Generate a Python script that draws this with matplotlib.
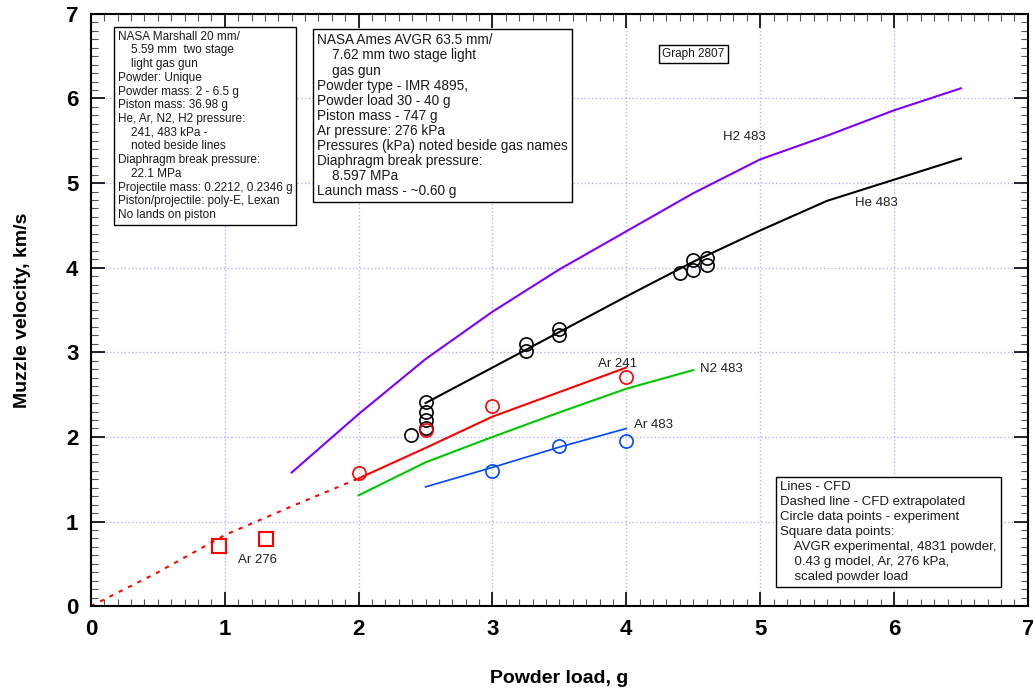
import numpy as np
import matplotlib
matplotlib.use('Agg')
import matplotlib.pyplot as plt
from matplotlib.ticker import MultipleLocator

plt.rcParams['font.family'] = ['Liberation Sans', 'DejaVu Sans']

# CFD lines
h2_x = [1.5, 2, 2.5, 3, 3.5, 4, 4.5, 5, 5.5, 6, 6.5]
h2_y = [1.58, 2.27, 2.92, 3.48, 3.98, 4.43, 4.88, 5.28, 5.56, 5.86, 6.12]
he_x = [2.5, 3, 3.5, 4, 4.5, 5, 5.5, 6, 6.5]
he_y = [2.40, 2.82, 3.24, 3.66, 4.07, 4.44, 4.79, 5.04, 5.29]
ar241_x = [2, 2.5, 3, 3.5, 4]
ar241_y = [1.51, 1.87, 2.24, 2.53, 2.82]
ar241_ext_x = [0, 0.5, 1, 1.5, 2]
ar241_ext_y = [0, 0.40, 0.84, 1.18, 1.51]
n2_x = [2, 2.5, 3, 3.5, 4, 4.5]
n2_y = [1.31, 1.70, 2.00, 2.29, 2.57, 2.79]
ar483_x = [2.5, 3, 3.5, 4]
ar483_y = [1.41, 1.64, 1.88, 2.10]

# experiment (circles)
he_exp_x = [2.39, 2.5, 2.5, 2.5, 2.5, 3.25, 3.25, 3.5, 3.5, 4.4, 4.5, 4.5, 4.6, 4.6]
he_exp_y = [2.02, 2.41, 2.30, 2.20, 2.10, 3.10, 3.01, 3.27, 3.20, 3.94, 4.09, 3.97, 4.11, 4.03]
ar241_exp_x = [2, 2.5, 3, 4]
ar241_exp_y = [1.57, 2.08, 2.37, 2.71]
ar483_exp_x = [3, 3.5, 4]
ar483_exp_y = [1.60, 1.89, 1.95]

# AVGR squares
avgr_x = [0.96, 1.31]
avgr_y = [0.71, 0.79]

purple = '#7f00ff'
green = '#00c800'
blue = '#0048ff'
red = '#ff0000'

fig = plt.figure(figsize=(10.33, 6.92), dpi=100)
ax = fig.add_axes([0.088, 0.124, 0.907, 0.856])

ax.plot(h2_x, h2_y, color=purple, lw=1.5)
ax.plot(he_x, he_y, color='black', lw=1.5)
ax.plot(ar241_x, ar241_y, color=red, lw=1.5)
ax.plot(ar241_ext_x, ar241_ext_y, color=red, lw=1.5, ls=(0, (2, 3)))
ax.plot(n2_x, n2_y, color=green, lw=1.5)
ax.plot(ar483_x, ar483_y, color=blue, lw=1.2)

ms = 9.5
ax.plot(he_exp_x, he_exp_y, 'o', mfc='none', mec='black', ms=ms, mew=1.2)
ax.plot(ar241_exp_x, ar241_exp_y, 'o', mfc='none', mec=red, ms=ms, mew=1.2)
ax.plot(ar483_exp_x, ar483_exp_y, 'o', mfc='none', mec=blue, ms=ms, mew=1.2)
ax.plot(avgr_x, avgr_y, 's', mfc='none', mec=red, ms=10.5, mew=1.5)

lab = dict(fontsize=9.5, color='#202020')
ax.text(4.72, 5.54, 'H2 483', va='center', **lab)
ax.text(5.71, 4.76, 'He 483', va='center', **lab)
ax.text(3.79, 2.86, 'Ar 241', va='center', **lab)
ax.text(4.55, 2.80, 'N2 483', va='center', **lab)
ax.text(4.06, 2.14, 'Ar 483', va='center', **lab)
ax.text(1.10, 0.54, 'Ar 276', va='center', **lab)

ax.set_xlim(0, 7)
ax.set_ylim(0, 7)
ax.xaxis.set_major_locator(MultipleLocator(1))
ax.yaxis.set_major_locator(MultipleLocator(1))
ax.xaxis.set_minor_locator(MultipleLocator(0.1))
ax.yaxis.set_minor_locator(MultipleLocator(0.1))
ax.tick_params(which='both', direction='in', top=True, right=True)
ax.tick_params(which='major', length=10, width=1.2, labelsize=16, pad=9)
ax.tick_params(which='minor', length=5, width=0.8, color='#555555')
for t in ax.get_xticklabels() + ax.get_yticklabels():
    t.set_fontweight('bold')
ax.grid(True, which='major', color='#b4b4ff', ls=':', lw=1)
for s in ax.spines.values():
    s.set_linewidth(1.5)

ax.set_xlabel('Powder load, g', fontsize=14, fontweight='bold', labelpad=22)
ax.set_ylabel('Muzzle velocity, km/s', fontsize=14, fontweight='bold', labelpad=25)

box = dict(boxstyle='square,pad=0.3', fc='white', ec='black', lw=1)
txtc = '#1a1a1a'
left_txt = ('NASA Marshall 20 mm/\n    5.59 mm  two stage\n    light gas gun\nPowder: Unique\n'
            'Powder mass: 2 - 6.5 g\nPiston mass: 36.98 g\nHe, Ar, N2, H2 pressure:\n'
            '    241, 483 kPa -\n    noted beside lines\nDiaphragm break pressure:\n'
            '    22.1 MPa\nProjectile mass: 0.2212, 0.2346 g\nPiston/projectile: poly-E, Lexan\n'
            'No lands on piston')
ax.text(0.20, 6.80, left_txt, fontsize=8.5, color=txtc, va='top', ha='left', linespacing=1.19, bbox=box)

mid_txt = ('NASA Ames AVGR 63.5 mm/\n    7.62 mm two stage light\n    gas gun\n'
           'Powder type - IMR 4895,\nPowder load 30 - 40 g\nPiston mass - 747 g\n'
           'Ar pressure: 276 kPa\nPressures (kPa) noted beside gas names\n'
           'Diaphragm break pressure:\n    8.597 MPa\nLaunch mass - ~0.60 g')
ax.text(1.69, 6.77, mid_txt, fontsize=9.8, color=txtc, va='top', ha='left', linespacing=1.1, bbox=box)

ax.text(4.27, 6.53, 'Graph 2807', fontsize=8.5, color=txtc, va='center', ha='left',
        bbox=dict(boxstyle='square,pad=0.25', fc='white', ec='black', lw=1))

br_txt = ('Lines - CFD\nDashed line - CFD extrapolated\nCircle data points - experiment\n'
          'Square data points:\n    AVGR experimental, 4831 powder,\n    0.43 g model, Ar, 276 kPa,\n'
          '    scaled powder load')
ax.text(5.15, 1.48, br_txt, fontsize=9.5, color=txtc, va='top', ha='left', linespacing=1.33, bbox=box)

fig.savefig('out.png', dpi=100)
